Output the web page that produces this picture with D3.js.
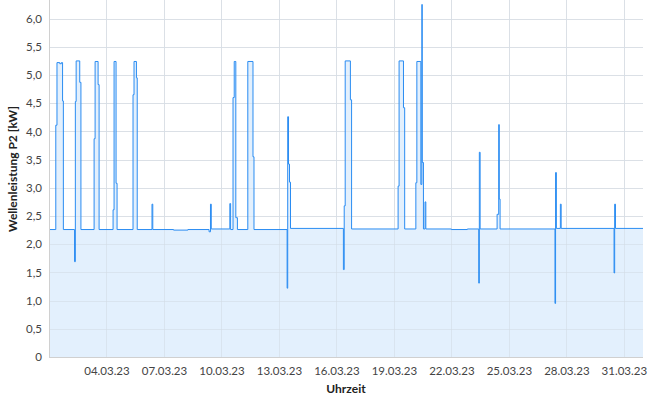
<!DOCTYPE html>
<html><head><meta charset="utf-8">
<script src="https://cdn.jsdelivr.net/npm/d3@7"></script>
<style>
html,body{margin:0;padding:0;background:#fff;}
text{font-family:Lato,"Open Sans",sans-serif;}
</style></head>
<body><svg id="c" width="654" height="400"></svg>
<script>
const times = [
"2023-03-01 00:00","2023-03-01 08:30","2023-03-01 10:00","2023-03-01 13:30","2023-03-01 15:30","2023-03-01 17:00","2023-03-01 18:00",
"2023-03-02 08:00","2023-03-02 09:00","2023-03-02 10:00","2023-03-02 14:30","2023-03-02 16:00",
"2023-03-03 08:30","2023-03-03 09:45","2023-03-03 13:30","2023-03-03 14:45",
"2023-03-04 08:15","2023-03-04 09:30","2023-03-04 12:00","2023-03-04 13:15",
"2023-03-05 09:15","2023-03-05 10:30","2023-03-05 13:30","2023-03-05 14:30",
"2023-03-06 09:00","2023-03-06 10:00","2023-03-07 12:00","2023-03-08 06:00",
"2023-03-09 08:30","2023-03-09 10:15","2023-03-09 11:15",
"2023-03-10 10:30","2023-03-10 11:30","2023-03-10 14:30","2023-03-10 16:00","2023-03-10 18:00","2023-03-10 20:00",
"2023-03-11 09:00","2023-03-11 15:30","2023-03-11 16:45",
"2023-03-13 10:15","2023-03-13 11:00","2023-03-13 12:00","2023-03-13 13:15","2023-03-13 14:30",
"2023-03-16 08:45","2023-03-16 09:45","2023-03-16 11:00","2023-03-16 17:30","2023-03-16 19:00",
"2023-03-19 05:15","2023-03-19 06:30","2023-03-19 12:00","2023-03-19 13:30",
"2023-03-20 03:30","2023-03-20 04:45","2023-03-20 09:45","2023-03-20 11:00","2023-03-20 11:30","2023-03-20 13:00",
"2023-03-20 15:00","2023-03-20 16:00","2023-03-22 00:00","2023-03-22 20:00",
"2023-03-23 10:15","2023-03-23 11:00","2023-03-23 12:00",
"2023-03-24 09:15","2023-03-24 11:15","2023-03-24 12:00","2023-03-24 13:00",
"2023-03-27 09:45","2023-03-27 10:30","2023-03-27 11:30",
"2023-03-27 16:30","2023-03-27 17:30",
"2023-03-30 11:45","2023-03-30 12:30","2023-03-30 13:30",
"2023-04-01 00:00"
];
const values = [
2.26,4.11,5.22,5.20,5.22,4.54,2.26,
1.69,4.53,5.25,4.87,2.26,
3.87,5.24,4.83,2.26,
2.61,5.24,3.08,2.26,
4.65,5.24,4.95,2.26,
2.71,2.26,2.25,2.26,
2.22,2.71,2.27,
2.72,2.26,4.60,5.24,2.47,2.26,
5.24,3.55,2.26,
1.22,4.26,3.42,3.10,2.28,
1.55,2.68,5.25,4.56,2.27,
3.03,5.25,4.42,2.27,
3.09,5.24,3.06,6.25,3.45,2.27,
2.75,2.27,2.26,2.27,
1.31,3.63,2.27,
2.53,4.12,2.80,2.27,
0.95,3.27,2.28,
2.71,2.28,
1.49,2.71,2.28,
2.28
];
const yTicks = [0,0.5,1,1.5,2,2.5,3,3.5,4,4.5,5,5.5,6];
const xTickDates = ["2023-03-04","2023-03-07","2023-03-10","2023-03-13","2023-03-16","2023-03-19","2023-03-22","2023-03-25","2023-03-28","2023-03-31"];
const xDomain = ["2023-03-01 00:00","2023-04-01 00:00"];
const yTitle = "Wellenleistung P2 [kW]";
const xTitle = "Uhrzeit";

const parse = d3.timeParse("%Y-%m-%d %H:%M");
const parseDay = d3.timeParse("%Y-%m-%d");
const data = times.map((t,i)=>({t:parse(t), v:values[i]}));

const svg = d3.select("#c");
const L=49, R=643, T=0, B=357;
const x = d3.scaleTime().domain(xDomain.map(parse)).range([L,R]);
const y = d3.scaleLinear().domain([0,6.33]).range([B,T]);

const fmtY = v => v===0 ? "0" : d3.format(".1f")(v).replace(".",",");
const fmtX = d3.timeFormat("%d.%m.%y");

function grid(sel, color, op){
  sel.selectAll(".hg").data(yTicks.filter(v=>v>0)).join("line")
    .attr("x1",L).attr("x2",R).attr("y1",d=>Math.round(y(d))+0.5).attr("y2",d=>Math.round(y(d))+0.5)
    .attr("stroke",color).attr("stroke-width",1).attr("opacity",op);
  sel.selectAll(".vg").data(xTickDates.map(parseDay)).join("line")
    .attr("x1",d=>Math.round(x(d))+0.5).attr("x2",d=>Math.round(x(d))+0.5).attr("y1",T).attr("y2",B)
    .attr("stroke",color).attr("stroke-width",1).attr("opacity",op);
}
grid(svg.append("g"), "#e6e6e6", 1);

const area = d3.area().x(d=>x(d.t)).y0(y(0)).y1(d=>y(d.v)).curve(d3.curveStepAfter);
const line = d3.line().x(d=>x(d.t)).y(d=>y(d.v)).curve(d3.curveStepAfter);
svg.append("path").datum(data).attr("d",area).attr("fill","#e3f0fd");
grid(svg.append("g"), "#d4dde6", 0.6);
svg.append("path").datum(data).attr("d",line).attr("fill","none")
  .attr("stroke","#2a8cf2").attr("stroke-width",1);

const ya = svg.append("g").attr("transform",`translate(${L},0)`)
  .call(d3.axisLeft(y).tickValues(yTicks).tickFormat(fmtY).tickSize(0).tickPadding(7));
ya.select(".domain").attr("stroke","#d0d0d0").attr("d",`M0.5,${T}V${B}`);
ya.selectAll("text").attr("font-size",11.5).attr("fill","#444");
const xa = svg.append("g").attr("transform",`translate(0,${B})`)
  .call(d3.axisBottom(x).tickValues(xTickDates.map(parseDay)).tickFormat(fmtX).tickSize(0).tickPadding(10));
xa.select(".domain").attr("stroke","#d0d0d0").attr("d",`M${L},0.5H${R}`);
xa.selectAll("text").attr("font-size",11.5).attr("fill","#444");

svg.append("text").attr("transform",`translate(17,169) rotate(-90)`)
  .attr("text-anchor","middle").attr("font-size",12).attr("font-weight","bold").attr("fill","#222").text(yTitle);
svg.append("text").attr("x",(L+R)/2).attr("y",393).attr("text-anchor","middle")
  .attr("font-size",12).attr("font-weight","bold").attr("fill","#222").text(xTitle);
</script></body></html>
